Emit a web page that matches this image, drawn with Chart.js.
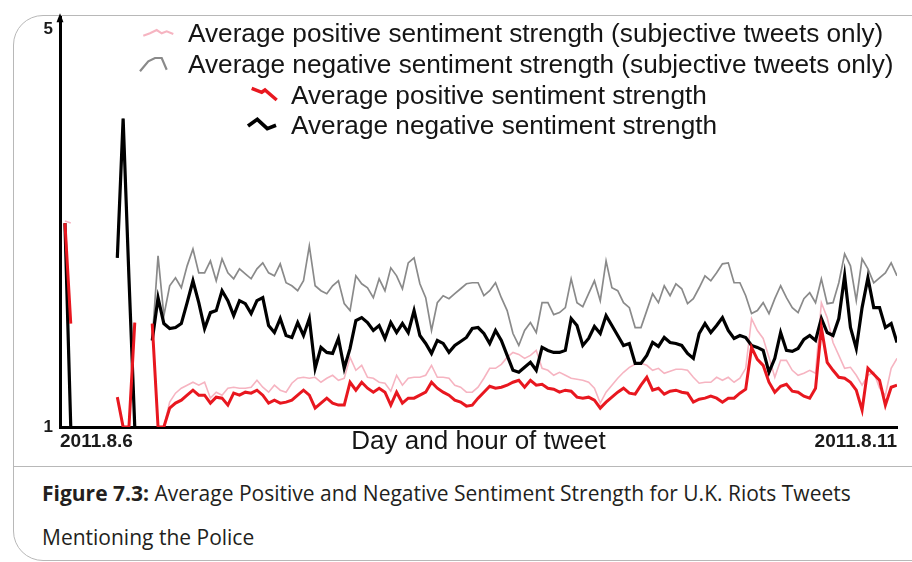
<!DOCTYPE html>
<html>
<head>
<meta charset="utf-8">
<script src="https://cdn.jsdelivr.net/npm/chart.js@4/dist/chart.umd.min.js"></script>
<style>
  html, body { margin: 0; padding: 0; background: #fff; }
  body { width: 912px; height: 562px; position: relative; overflow: hidden; font-family: "Liberation Sans", Arial, sans-serif; }
  .card { position: absolute; left: 13px; top: 15px; width: 960px; height: 546px; box-sizing: border-box;
          border: 1px solid #b8b8b8; border-radius: 30px 0 0 30px; }
  .sep { position: absolute; left: 13px; top: 466px; width: 899px; border-top: 1px solid #b8b8b8; }
  #chart { position: absolute; left: 0; top: 0; }
  .legend-icons { position: absolute; left: 0; top: 0; }
  .legend-item { position: absolute; font-size: 26.2px; line-height: 30px; color: #151515; white-space: nowrap; }
  .caption { position: absolute; left: 42px; top: 471px; font-family: "Open Sans", sans-serif; font-size: 21px;
             line-height: 44px; color: #231f20; white-space: nowrap; }
  .caption b { font-weight: 700; }
</style>
</head>
<body>
<div class="card"></div>
<div class="sep"></div>
<canvas id="chart" width="912" height="465"></canvas>
<svg class="legend-icons" width="912" height="140"></svg>
<div id="legend"></div>
<div class="caption"><b>Figure 7.3:</b> Average Positive and Negative Sentiment Strength for U.K. Riots Tweets<br>Mentioning the Police</div>

<script>
// hourly buckets from 2011.8.6 to 2011.8.11
const hours = Array.from({ length: 144 }, (_, i) => i);

const xTickLabels = ['2011.8.6', '2011.8.11'];
const yTickValues = [1, 5];

const seriesNames = [
  'Average positive sentiment strength (subjective tweets only)',
  'Average negative sentiment strength (subjective tweets only)',
  'Average positive sentiment strength',
  'Average negative sentiment strength',
];

const posSubjective = [
  3.07, 3.05, null, null, null, null, null, null, null, 1.30, 1.0, 1.0, 2.05, null, null, 2.04,
  1.0, 1.0, 1.25, 1.34, 1.39, 1.42, 1.45, 1.42, 1.45, 1.29, 1.35, 1.32, 1.39, 1.40, 1.39, 1.39, 1.40, 1.47, 1.40, 1.35,
  1.42, 1.37, 1.35, 1.44, 1.49, 1.50, 1.49, 1.50, 1.45, 1.49, 1.52, 1.47, 1.49, 1.70, 1.57, 1.62, 1.50, 1.49, 1.45, 1.44,
  1.36, 1.52, 1.42, 1.49, 1.50, 1.50, 1.52, 1.62, 1.50, 1.50, 1.49, 1.42, 1.40, 1.35, 1.35, 1.40, 1.49, 1.59, 1.59, 1.63,
  1.70, 1.75, 1.73, 1.69, 1.72, 1.77, 1.59, 1.57, 1.52, 1.55, 1.52, 1.49, 1.48, 1.47, 1.45, 1.39, 1.24, 1.35, 1.42, 1.49,
  1.55, 1.60, 1.63, 1.64, 1.62, 1.57, 1.59, 1.54, 1.56, 1.58, 1.58, 1.57, 1.50, 1.44, 1.45, 1.45, 1.50, 1.47, 1.50, 1.45,
  1.49, 1.59, 2.09, 1.97, 1.89, 1.70, 1.50, 1.67, 1.67, 1.57, 1.52, 1.54, 1.57, 1.54, 2.25, 2.10, 1.85, 1.72, 1.59, 1.60,
  1.52, 1.42, 1.52, 1.55, 1.39, 1.32, 1.59, 1.69,
];

const negSubjective = [
  3.05, 1.0, null, null, null, null, null, null, null, 2.7, 4.1, 2.5, 1.0, null, null, 1.87,
  2.72, 2.12, 2.42, 2.50, 2.40, 2.62, 2.79, 2.55, 2.55, 2.67, 2.47, 2.69, 2.55, 2.49, 2.59, 2.54, 2.49, 2.59, 2.65, 2.55,
  2.52, 2.64, 2.45, 2.42, 2.37, 2.47, 2.82, 2.42, 2.37, 2.34, 2.42, 2.47, 2.24, 2.17, 2.52, 2.44, 2.40, 2.30, 2.49, 2.37,
  2.60, 2.52, 2.39, 2.65, 2.70, 2.44, 2.30, 1.97, 2.25, 2.32, 2.29, 2.34, 2.39, 2.44, 2.45, 2.45, 2.32, 2.37, 2.45, 2.30,
  2.17, 1.94, 1.82, 1.97, 2.05, 1.95, 2.25, 2.25, 2.13, 2.15, 2.20, 2.49, 2.25, 2.21, 2.34, 2.47, 2.27, 2.67, 2.40, 2.37,
  2.25, 2.20, 2.00, 2.00, 2.17, 2.34, 2.25, 2.42, 2.32, 2.44, 2.39, 2.24, 2.29, 2.40, 2.52, 2.47, 2.55, 2.64, 2.65, 2.45,
  2.45, 2.32, 2.14, 2.17, 2.25, 2.14, 2.29, 2.42, 2.30, 2.20, 2.15, 2.29, 2.35, 2.25, 2.49, 2.24, 2.25, 2.45, 2.74, 2.62,
  2.27, 2.69, 2.59, 2.45, 2.50, 2.55, 2.65, 2.52,
];

const posAll = [
  3.05, 2.04, null, null, null, null, null, null, null, 1.30, 1.0, 1.0, 2.05, null, null, 2.04,
  1.0, 1.0, 1.19, 1.24, 1.27, 1.32, 1.37, 1.32, 1.32, 1.24, 1.30, 1.29, 1.22, 1.34, 1.32, 1.35, 1.34, 1.37, 1.32, 1.24,
  1.27, 1.24, 1.25, 1.27, 1.32, 1.37, 1.32, 1.19, 1.24, 1.29, 1.24, 1.22, 1.22, 1.45, 1.37, 1.45, 1.39, 1.35, 1.39, 1.35,
  1.22, 1.35, 1.24, 1.29, 1.29, 1.32, 1.35, 1.45, 1.39, 1.35, 1.32, 1.27, 1.25, 1.21, 1.22, 1.29, 1.35, 1.41, 1.39, 1.40,
  1.42, 1.45, 1.47, 1.40, 1.47, 1.42, 1.43, 1.39, 1.38, 1.35, 1.37, 1.36, 1.30, 1.29, 1.30, 1.27, 1.19, 1.25, 1.30, 1.35,
  1.39, 1.34, 1.33, 1.42, 1.50, 1.37, 1.39, 1.33, 1.36, 1.37, 1.35, 1.34, 1.25, 1.28, 1.29, 1.31, 1.29, 1.25, 1.29, 1.29,
  1.34, 1.38, 1.80, 1.68, 1.62, 1.45, 1.35, 1.41, 1.43, 1.36, 1.35, 1.31, 1.29, 1.39, 2.00, 1.65, 1.57, 1.50, 1.49, 1.45,
  1.37, 1.17, 1.59, 1.53, 1.47, 1.22, 1.40, 1.42,
];

const negAll = [
  3.05, 1.0, null, null, null, null, null, null, null, 2.7, 4.1, 2.5, 1.0, null, null, 1.87,
  2.30, 2.04, 1.99, 2.00, 2.04, 2.25, 2.47, 2.25, 1.99, 2.15, 2.17, 2.37, 2.27, 2.12, 2.27, 2.24, 2.14, 2.27, 2.30, 2.02,
  1.95, 2.09, 1.92, 1.90, 2.05, 1.92, 2.09, 1.59, 1.80, 1.75, 1.74, 1.89, 1.59, 1.79, 2.07, 2.10, 2.05, 1.97, 2.02, 1.89,
  2.05, 1.95, 2.04, 1.95, 2.17, 1.92, 1.84, 1.74, 1.87, 1.84, 1.75, 1.82, 1.86, 1.90, 1.99, 2.00, 1.94, 1.84, 1.97, 1.87,
  1.72, 1.57, 1.55, 1.60, 1.65, 1.57, 1.80, 1.77, 1.75, 1.75, 1.77, 2.09, 2.02, 1.82, 1.89, 2.01, 1.94, 2.12, 2.02, 1.92,
  1.82, 1.84, 1.64, 1.64, 1.72, 1.85, 1.81, 1.90, 1.85, 1.84, 1.82, 1.74, 1.69, 1.94, 2.04, 1.95, 2.02, 2.10, 1.97, 1.89,
  1.92, 1.90, 1.82, 1.80, 1.77, 1.55, 1.69, 1.95, 1.77, 1.76, 1.79, 1.88, 1.92, 1.87, 2.09, 1.95, 1.92, 2.09, 2.52, 2.00,
  1.79, 2.20, 2.50, 2.20, 2.20, 2.00, 2.04, 1.85,
];

const seriesColors = ['#f6b4c1', '#8a8a8a', '#e8171f', '#000000'];
const seriesWidths = [1.6, 1.7, 3, 3.2];
const seriesValues = [posSubjective, negSubjective, posAll, negAll];

const xMin = -0.85;
const xMax = 143;

// small arrow head on top of the y axis
const axisArrow = {
  id: 'axisArrow',
  afterDraw(chart) {
    const { ctx, chartArea } = chart;
    const x = chartArea.left;
    ctx.save();
    ctx.fillStyle = '#000';
    ctx.beginPath();
    ctx.moveTo(x, chartArea.top - 4);
    ctx.lineTo(x - 3.5, chartArea.top + 5);
    ctx.lineTo(x + 3.5, chartArea.top + 5);
    ctx.closePath();
    ctx.fill();
    ctx.restore();
  }
};

new Chart(document.getElementById('chart'), {
  type: 'line',
  data: {
    labels: hours,
    datasets: seriesValues.map((vals, i) => ({
      label: seriesNames[i],
      data: vals,
      borderColor: seriesColors[i],
      borderWidth: seriesWidths[i],
      pointRadius: 0,
      tension: 0,
      spanGaps: false,
      order: i < 2 ? 2 : 1,
    }))
  },
  options: {
    responsive: false,
    animation: false,
    layout: { padding: { left: 0, top: 15, right: 15, bottom: 0 } },
    plugins: {
      legend: { display: false },
      tooltip: { enabled: false },
    },
    scales: {
      x: {
        type: 'linear',
        min: xMin,
        max: xMax,
        grid: { display: false, drawTicks: false },
        border: { display: true, color: '#000', width: 3 },
        afterBuildTicks: s => { s.ticks = [xMin, xMax].map(v => ({ value: v })); },
        afterFit: s => { s.height = 38; },
        ticks: {
          align: 'inner',
          maxRotation: 0,
          autoSkip: false,
          padding: 3,
          color: '#1a1a1a',
          font: { family: 'Liberation Sans', size: 19, weight: 'bold' },
          callback: (v, i) => xTickLabels[i],
        },
        title: {
          display: true,
          text: 'Day and hour of tweet',
          color: '#151515',
          font: { family: 'Liberation Sans', size: 26 },
          padding: { top: 0, bottom: 7.4 },
        },
      },
      y: {
        min: 1,
        max: 5.12,
        grid: { display: false, drawTicks: false },
        border: { display: true, color: '#000', width: 3 },
        afterBuildTicks: s => { s.ticks = yTickValues.map(v => ({ value: v })); },
        afterFit: s => { s.width = 60; },
        ticks: {
          padding: 7,
          color: '#1a1a1a',
          font: { family: 'Liberation Sans', size: 17, weight: 'bold' },
          callback: v => String(v),
        },
      },
    },
  },
  plugins: [axisArrow],
});

// legend: two long entries first, the two short ones indented below
const legendRows = [
  { iconLeft: 140, textLeft: 188, center: 33, icon: [[3.3, 13.7], [10, 11.3], [16.7, 8], [21.7, 11.3], [26.7, 9.3], [33.3, 12]] },
  { iconLeft: 138, textLeft: 188, center: 64, icon: [[2, 18.3], [10.3, 8.3], [17, 5], [23.7, 5], [28.7, 16.7]] },
  { iconLeft: 248, textLeft: 291, center: 95, icon: [[3.7, 4.3], [13.7, 8.3], [17, 6], [28.7, 16]] },
  { iconLeft: 247, textLeft: 291, center: 125, icon: [[1, 12], [10.3, 5.3], [20.3, 14.7], [29, 11.3]] },
];

const svg = document.querySelector('.legend-icons');
const legendBox = document.getElementById('legend');
legendRows.forEach((row, i) => {
  const top = row.center - 11;
  const pts = row.icon.map(p => `${row.iconLeft + p[0]},${top + p[1]}`).join(' ');
  svg.insertAdjacentHTML('beforeend',
    `<polyline points="${pts}" fill="none" stroke="${seriesColors[i]}" stroke-width="${seriesWidths[i] + 0.5}" />`);
  legendBox.insertAdjacentHTML('beforeend',
    `<div class="legend-item" style="left:${row.textLeft}px;top:${row.center - 15}px">${seriesNames[i]}</div>`);
});
</script>
</body>
</html>
